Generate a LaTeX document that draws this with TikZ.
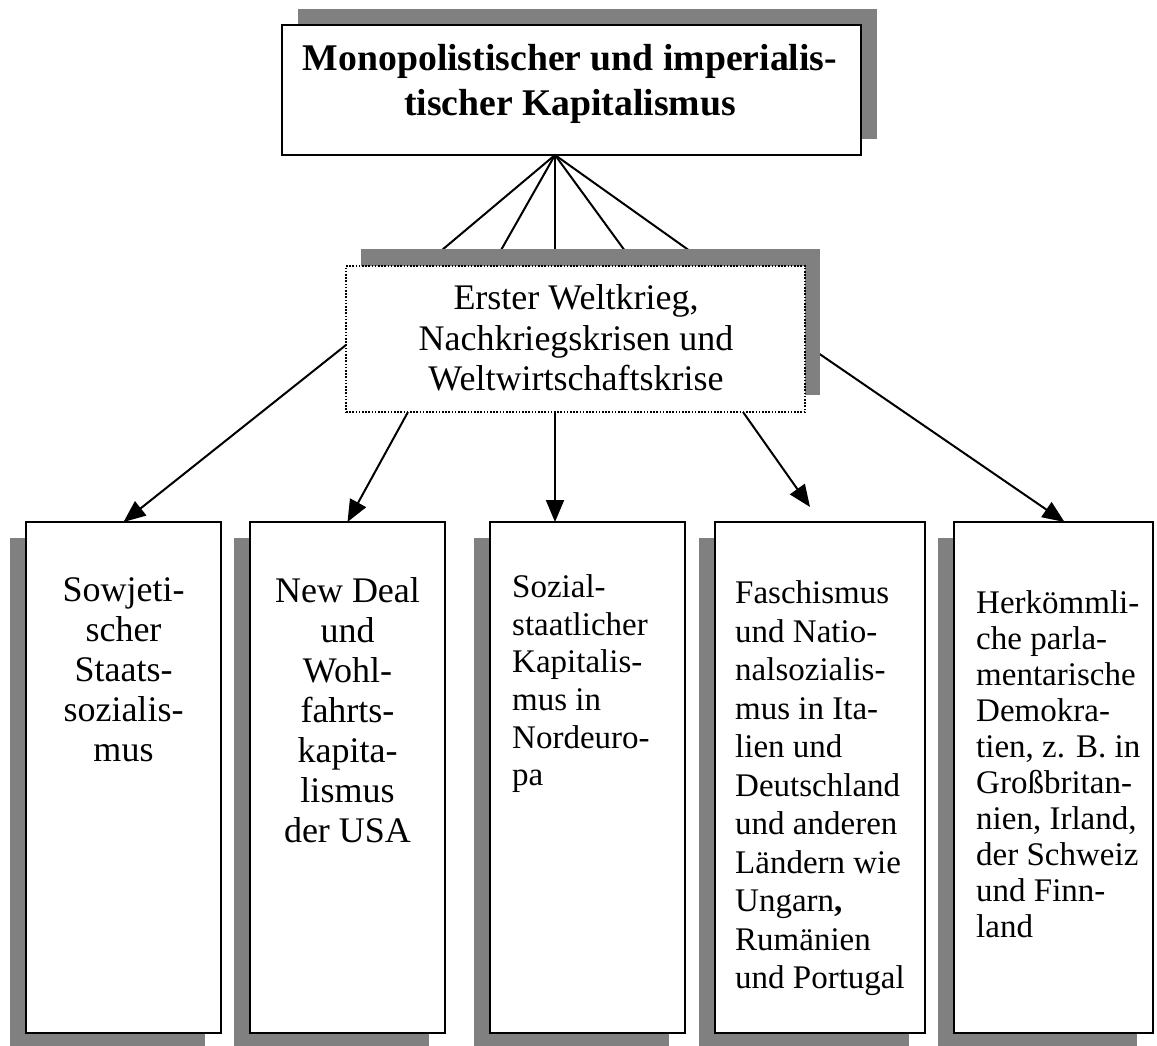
\documentclass[tikz,border=0pt]{standalone}
\usepackage{fontspec}
\setmainfont{Liberation Serif}
\usetikzlibrary{arrows.meta,calc}
\definecolor{shadowgray}{HTML}{808080}
\pgfdeclarelayer{bg}
\pgfdeclarelayer{shade}
\pgfsetlayers{bg,shade,main}
\tikzset{
  x=1pt, y=-1pt,
  shadowbox/.style={fill=shadowgray, draw=none, inner sep=0pt, outer sep=0pt, anchor=north west},
  mainbox/.style={draw=black, fill=white, line width=2pt, inner sep=0pt, outer sep=0pt, anchor=north west},
  dotbox/.style={draw=black, fill=white, line width=1.6pt, dash pattern=on 1.6pt off 1.6pt, inner sep=0pt, outer sep=0pt, anchor=north west},
  conn/.style={line width=2pt, draw=black},
  arr/.style={line width=2pt, draw=black, -{Triangle[length=22pt,width=18pt]}},
  bigtxt/.style={inner sep=0pt, font=\fontsize{36pt}{40pt}\selectfont, align=center, anchor=north},
  smalltxt/.style={inner sep=0pt, font=\fontsize{33pt}{37.6pt}\selectfont, align=left, anchor=north west},
}
\begin{document}
\begin{tikzpicture}
\useasboundingbox (0,0) rectangle (1157,1046);

% top box
\begin{pgfonlayer}{shade}
\node[shadowbox, minimum width=579pt, minimum height=130pt] (ts) at (298,9) {};
\end{pgfonlayer}
\node[mainbox, minimum width=579pt, minimum height=130pt] (t) at (282,25) {};
\node[inner sep=0pt, align=center, anchor=north, font=\fontsize{37.7pt}{45pt}\selectfont\bfseries] (tt) at (570,44.3)
  {Monopolistischer und imperialis-\\tischer Kapitalismus};

% middle box
\begin{pgfonlayer}{shade}
\node[shadowbox, minimum width=459pt, minimum height=146pt] (ms) at (361,249) {};
\end{pgfonlayer}
\node[dotbox, minimum width=459pt, minimum height=146pt] (m) at (346,266) {};
\node[bigtxt, font=\fontsize{36pt}{40.5pt}\selectfont] (mt) at (576,284.4)
  {Erster Weltkrieg,\\Nachkriegskrisen und\\Weltwirtschaftskrise};

% bottom boxes
\begin{pgfonlayer}{shade}
\node[shadowbox, minimum width=195pt, minimum height=511pt] (s1) at (10,538) {};
\node[shadowbox, minimum width=195pt, minimum height=511pt] (s2) at (234,538) {};
\node[shadowbox, minimum width=195pt, minimum height=511pt] (s3) at (474,538) {};
\node[shadowbox, minimum width=210pt, minimum height=511pt] (s4) at (699,538) {};
\node[shadowbox, minimum width=199pt, minimum height=511pt] (s5) at (938,538) {};
\end{pgfonlayer}
\node[mainbox, minimum width=195pt, minimum height=511pt] (b1) at (26,522) {};
\node[mainbox, minimum width=195pt, minimum height=511pt] (b2) at (250,522) {};
\node[mainbox, minimum width=195pt, minimum height=511pt] (b3) at (490,522) {};
\node[mainbox, minimum width=210pt, minimum height=511pt] (b4) at (715,522) {};
\node[mainbox, minimum width=199pt, minimum height=511pt] (b5) at (954,522) {};

\node[bigtxt] (b1t) at (123.5,577.4) {Sowjeti-\\scher\\Staats-\\sozialis-\\mus};
\node[bigtxt] (b2t) at (347.5,577.4) {New Deal\\und\\Wohl-\\fahrts-\\kapita-\\lismus\\der USA};
\node[smalltxt] (b3t) at (512,574.5) {Sozial-\\staatlicher\\Kapitalis-\\mus in\\Nordeuro-\\pa};
\node[smalltxt, font=\fontsize{33pt}{38.5pt}\selectfont] (b4t) at (735,580.5)
  {Faschismus\\und Natio-\\nalsozialis-\\mus in Ita-\\lien und\\Deutschland\\und anderen\\Ländern wie\\Ungarn\textbf{,}\\Rumänien\\und Portugal};
\node[smalltxt, font=\fontsize{33pt}{36pt}\selectfont] (b5t) at (976,590.5)
  {Herkömmli-\\che parla-\\mentarische\\Demokra-\\tien, z. B. in\\Großbritan-\\nien, Irland,\\der Schweiz\\und Finn-\\land};

% connectors
\begin{pgfonlayer}{bg}
\coordinate (hub) at ([xshift=-16.5pt]t.south);
\draw[conn] (hub) -- ([xshift=-152.5pt]m.north);
\draw[conn] (hub) -- ([xshift=-83.5pt]m.north);
\draw[conn] (hub) -- ([xshift=-20.5pt]m.north);
\draw[conn] (hub) -- ([xshift=60.5pt]m.north);
\draw[conn] (hub) -- ([xshift=135.5pt]m.north);

\draw[arr] ([yshift=-6pt]m.west) -- (b1.north);
\draw[arr] ([xshift=-167.5pt]m.south) -- (b2.north);
\draw[arr] ([xshift=-20.5pt]m.south) -- ([xshift=-32.5pt]b3.north);
\coordinate (a4end) at ([xshift=-10pt,yshift=15pt]b4.north);
\draw[arr] ([xshift=167.5pt]m.south) -- (a4end);
\draw[arr] ([yshift=-5pt]m.east) -- ([xshift=11pt]b5.north);
\end{pgfonlayer}
\end{tikzpicture}
\end{document}
